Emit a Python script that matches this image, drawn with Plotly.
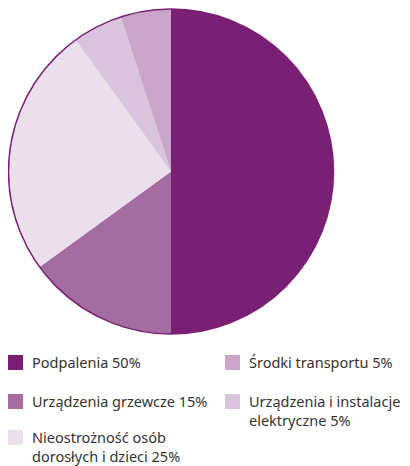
import plotly.graph_objects as go

PAGE_W, PAGE_H = 410, 466
OFF = 8  # default page body margin
W, H = PAGE_W - OFF, PAGE_H - OFF

categories = ["Podpalenia", "Urządzenia grzewcze", "Nieostrożność osób dorosłych i dzieci",
              "Urządzenia i instalacje elektryczne", "Środki transportu"]
values = [50, 15, 25, 5, 5]
colors = ["#7A2074", "#A46CA1", "#EBDFEC", "#DAC4DD", "#C8A5C9"]
legend_labels = ["Podpalenia 50%", "Urządzenia grzewcze 15%", "Nieostrożność osób<br>dorosłych i dzieci 25%",
                 "Urządzenia i instalacje<br>elektryczne 5%", "Środki transportu 5%"]

# pie geometry in page pixels
cx, cy, r = 171, 171.5, 162.5

def px(x):
    return (x - OFF) / W

def py(y):
    return 1 - (y - OFF) / H

fig = go.Figure(go.Pie(
    labels=categories, values=values, sort=False, direction="clockwise",
    marker=dict(colors=colors, line=dict(width=0)),
    textinfo="none", hoverinfo="label+percent", showlegend=False,
    domain=dict(x=[px(cx - r), px(cx + r)], y=[py(cy + r), py(cy - r)]),
))

shapes = [dict(type="circle", xref="paper", yref="paper",
               x0=px(cx - r), x1=px(cx + r), y0=py(cy + r), y1=py(cy - r),
               line=dict(color="#7A2074", width=1.5))]
annotations = []

# legend layout (column-major): (index, square x, square top y)
legend_pos = [(0, 8, 355), (1, 8, 394), (2, 8, 430), (4, 225, 355), (3, 225, 394)]
for i, sx, sy in legend_pos:
    shapes.append(dict(type="rect", xref="paper", yref="paper",
                       x0=px(sx), x1=px(sx + 15), y0=py(sy + 15), y1=py(sy),
                       fillcolor=colors[i], line=dict(width=0)))
    annotations.append(dict(x=px(sx + 22), y=py(sy - 5), xref="paper", yref="paper",
                            xanchor="left", yanchor="top", align="left", showarrow=False,
                            text=legend_labels[i],
                            font=dict(family="Noto Sans", size=14.5, color="#333333")))

fig.update_layout(width=W, height=H, margin=dict(l=0, r=0, t=0, b=0),
                  paper_bgcolor="white", plot_bgcolor="white",
                  shapes=shapes, annotations=annotations)

fig.write_html("out.html")
